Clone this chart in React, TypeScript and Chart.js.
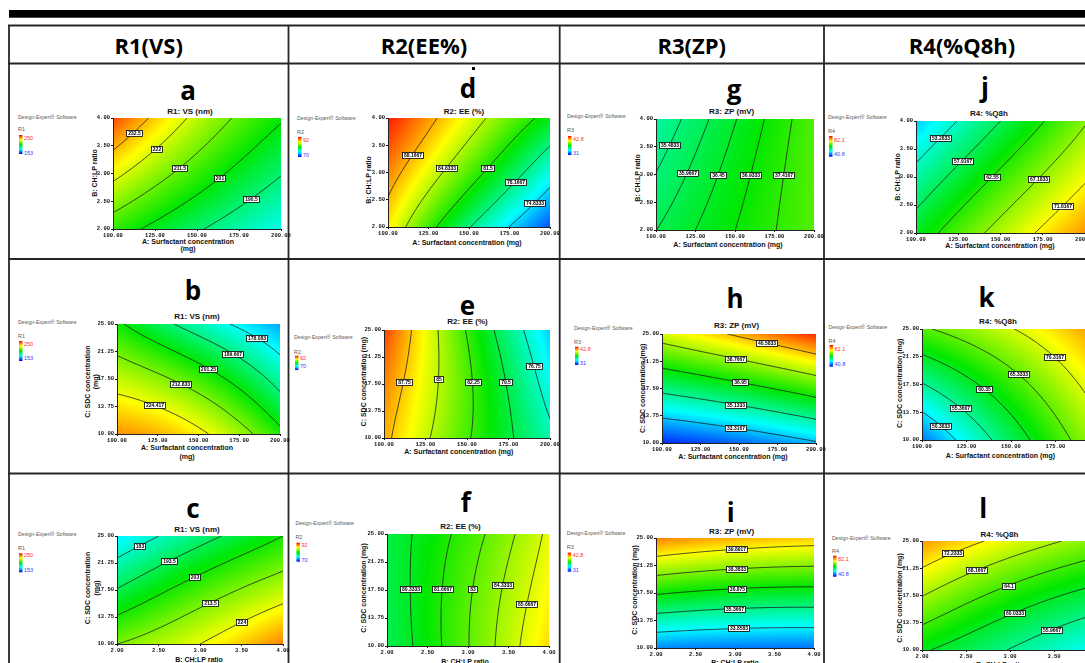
import React, { useEffect, useRef } from "react";
import { Chart, registerables } from "chart.js";

Chart.register(...registerables);

// ---------- factor axes ----------
const SURFACTANT_TICKS = [100, 125, 150, 175, 200];
const RATIO_TICKS = [2, 2.5, 3, 3.5, 4];
const SDC_TICKS = [10, 13.75, 17.5, 21.25, 25];

// ---------- colour-bar range of each response (low, high) ----------
const R1_RANGE = [153, 250];
const R2_RANGE = [70, 92];
const R3_RANGE = [31, 42.8];
const R4_RANGE = [40.8, 82.1];

// ---------- predicted response on a 3x3 design grid ----------
// rows: low / centre / high level of the vertical factor
// columns: low / centre / high level of the horizontal factor
const SURFACE_A = [[206, 191.6, 179], [224.7, 206.5, 191], [243.3, 219.5, 202]];
const SURFACE_B = [[236, 226.5, 204], [220, 207.5, 185.6], [203, 184.4, 169]];
const SURFACE_C = [[213.5, 224, 238], [194, 208, 219.5], [175.5, 190, 203]];
const SURFACE_D = [[86.9, 78.3, 71.8], [89.2, 82.7, 76], [91.5, 86, 80.5]];
const SURFACE_E = [[88.3, 82.5, 77.3], [89.2, 82.7, 75.8], [90.7, 82.1, 74.4]];
const SURFACE_F = [[79.2, 82.95, 87.3], [79.4, 82.8, 86.6], [79.6, 82.3, 86]];
const SURFACE_G = [[35.96, 36.93, 37.85], [35.5, 36.7, 37.85], [35.04, 36.42, 37.8]];
const SURFACE_H = [[31.5, 32.2, 33.2], [35.47, 36.45, 37.68], [39.43, 40.8, 42.3]];
const SURFACE_I = [[32.6, 32.4, 32.35], [37.0, 36.55, 36.42], [41.34, 40.76, 40.45]];
const SURFACE_J = [[60.2, 68.7, 76], [54.7, 63.4, 71.3], [48.9, 57.9, 66.8]];
const SURFACE_K = [[45.5, 57.9, 68.7], [55.1, 63.5, 72.5], [64.8, 70.1, 76.5]];
const SURFACE_L = [[60.5, 55.8, 51], [68.3, 62.6, 58.5], [76, 70.8, 66.5]];

// ---------- contour levels and where each level is labelled ----------
const LEVELS_A = [232.5, 222, 211.5, 201, 190.5];
const LABEL_X_A = [111.9, 126, 139.9, 163, 182];
const LABEL_Y_A = [3.75, 3.44, 3.09, 2.93, 2.53];

const LEVELS_B = [178.083, 189.667, 201.25, 212.833, 224.417];
const LABEL_X_B = [186.7, 172.4, 156.5, 138.8, 122.4];
const LABEL_Y_B = [23.45, 21.4, 19.08, 16.72, 13.68];

const LEVELS_C = [183, 193.5, 203, 213.5, 224];
const LABEL_X_C = [2.29, 2.63, 2.93, 3.12, 3.51];
const LABEL_Y_C = [23.43, 21.5, 19.33, 15.54, 12.95];

const LEVELS_D = [88.1667, 84.8333, 81.5, 78.1667, 74.8333];
const LABEL_X_D = [114.4, 134.9, 160.4, 178.4, 190.3];
const LABEL_Y_D = [3.34, 3.11, 3.11, 2.83, 2.43];

const LEVELS_E = [87.75, 85, 82.25, 79.5, 76.75];
const LABEL_X_E = [111.5, 133, 153.3, 173.2, 190];
const LABEL_Y_E = [17.8, 18.13, 17.8, 17.8, 19.99];

const LEVELS_F = [80.3333, 81.6667, 83, 84.3333, 85.6667];
const LABEL_X_F = [2.31, 2.72, 3.08, 3.5, 3.81];
const LABEL_Y_F = [17.6, 17.6, 17.6, 17.97, 15.4];

const LEVELS_G = [35.4833, 35.9667, 36.45, 36.9333, 37.4167];
const LABEL_X_G = [109.3, 120, 139.4, 160, 180.7];
const LABEL_Y_G = [3.53, 3.03, 2.99, 2.99, 2.99];

const LEVELS_H = [40.5833, 38.7667, 36.95, 35.1333, 33.3167];
const LABEL_X_H = [167.6, 147.4, 150.2, 147.4, 147.4];
const LABEL_Y_H = [23.8, 21.56, 18.4, 15.13, 11.93];

const LEVELS_I = [39.8917, 38.3833, 36.875, 35.3667, 33.8583];
const LABEL_X_I = [3.02, 3.02, 3.03, 2.99, 3.04];
const LABEL_Y_I = [23.45, 20.72, 18.09, 15.5, 12.73];

const LEVELS_J = [53.2833, 57.9167, 62.55, 67.1833, 71.8167];
const LABEL_X_J = [114.4, 127.6, 144.7, 171.7, 186.1];
const LABEL_Y_J = [3.69, 3.28, 2.99, 2.99, 2.51];

const LEVELS_K = [70.3167, 65.3333, 60.35, 55.3667, 50.3833];
const LABEL_X_K = [175.1, 154.9, 134.9, 122.5, 111.8];
const LABEL_Y_K = [21.36, 19.03, 17, 14.45, 12.24];

const LEVELS_L = [72.2333, 68.1667, 64.1, 60.0333, 55.9667];
const LABEL_X_L = [2.34, 2.62, 2.97, 3.05, 3.48];
const LABEL_Y_L = [23.4, 21.1, 19.1, 15, 12.65];

// ---------- responses (table columns) ----------
const RESPONSES = [
  { name: "R1", header: "R1(VS)", title: "R1: VS (nm)", range: R1_RANGE },
  { name: "R2", header: "R2(EE%)", title: "R2: EE (%)", range: R2_RANGE },
  { name: "R3", header: "R3(ZP)", title: "R3: ZP (mV)", range: R3_RANGE },
  { name: "R4", header: "R4(%Q8h)", title: "R4: %Q8h", range: R4_RANGE },
];

const A_TITLE = "A: Surfactant concentration (mg)";
const A_TITLE_SPLIT = ["A: Surfactant concentration", "(mg)"];
const B_TITLE = "B: CH:LP ratio";
const C_TITLE = "C: SDC concentration (mg)";
const C_TITLE_SPLIT = ["C: SDC concentration", "(mg)"];

const PANELS = [
  { key: "a", col: 0, surface: SURFACE_A, levels: LEVELS_A, labelX: LABEL_X_A, labelY: LABEL_Y_A, xTicks: SURFACTANT_TICKS, yTicks: RATIO_TICKS, xText: A_TITLE_SPLIT, yText: [B_TITLE] },
  { key: "b", col: 0, surface: SURFACE_B, levels: LEVELS_B, labelX: LABEL_X_B, labelY: LABEL_Y_B, xTicks: SURFACTANT_TICKS, yTicks: SDC_TICKS, xText: A_TITLE_SPLIT, yText: C_TITLE_SPLIT },
  { key: "c", col: 0, surface: SURFACE_C, levels: LEVELS_C, labelX: LABEL_X_C, labelY: LABEL_Y_C, xTicks: RATIO_TICKS, yTicks: SDC_TICKS, xText: [B_TITLE], yText: C_TITLE_SPLIT },
  { key: "d", col: 1, surface: SURFACE_D, levels: LEVELS_D, labelX: LABEL_X_D, labelY: LABEL_Y_D, xTicks: SURFACTANT_TICKS, yTicks: RATIO_TICKS, xText: [A_TITLE], yText: [B_TITLE] },
  { key: "e", col: 1, surface: SURFACE_E, levels: LEVELS_E, labelX: LABEL_X_E, labelY: LABEL_Y_E, xTicks: SURFACTANT_TICKS, yTicks: SDC_TICKS, xText: [A_TITLE], yText: [C_TITLE] },
  { key: "f", col: 1, surface: SURFACE_F, levels: LEVELS_F, labelX: LABEL_X_F, labelY: LABEL_Y_F, xTicks: RATIO_TICKS, yTicks: SDC_TICKS, xText: [B_TITLE], yText: [C_TITLE] },
  { key: "g", col: 2, surface: SURFACE_G, levels: LEVELS_G, labelX: LABEL_X_G, labelY: LABEL_Y_G, xTicks: SURFACTANT_TICKS, yTicks: RATIO_TICKS, xText: [A_TITLE], yText: [B_TITLE] },
  { key: "h", col: 2, surface: SURFACE_H, levels: LEVELS_H, labelX: LABEL_X_H, labelY: LABEL_Y_H, xTicks: SURFACTANT_TICKS, yTicks: SDC_TICKS, xText: [A_TITLE], yText: [C_TITLE] },
  { key: "i", col: 2, surface: SURFACE_I, levels: LEVELS_I, labelX: LABEL_X_I, labelY: LABEL_Y_I, xTicks: RATIO_TICKS, yTicks: SDC_TICKS, xText: [B_TITLE], yText: [C_TITLE] },
  { key: "j", col: 3, surface: SURFACE_J, levels: LEVELS_J, labelX: LABEL_X_J, labelY: LABEL_Y_J, xTicks: SURFACTANT_TICKS, yTicks: RATIO_TICKS, xText: [A_TITLE], yText: [B_TITLE] },
  { key: "k", col: 3, surface: SURFACE_K, levels: LEVELS_K, labelX: LABEL_X_K, labelY: LABEL_Y_K, xTicks: SURFACTANT_TICKS, yTicks: SDC_TICKS, xText: [A_TITLE], yText: [C_TITLE] },
  { key: "l", col: 3, surface: SURFACE_L, levels: LEVELS_L, labelX: LABEL_X_L, labelY: LABEL_Y_L, xTicks: RATIO_TICKS, yTicks: SDC_TICKS, xText: [B_TITLE], yText: [C_TITLE] },
];

// ---------- page geometry ----------
const PAGE_W = 1085;
const PAGE_H = 663;
const H_RULES = [25.5, 63.5, 259, 473.5];
const V_RULES = [9, 288.5, 559.7, 824];
const HEADER_X = [148.7, 424, 691.8, 962];
const HEADER_Y = 45;

// plot: [left, top, right, bottom] of the plotting area
const LAYOUT: Record<string, any> = {
  a: { plot: [113, 118, 281, 229], letter: [188, 100], title: [190, 111], xTitle: { x: 188, y: [241, 248] }, yTitle: { x: [94], y: 173 }, legend: { x: 18, de: 117, r: 129, bar: [135, 154], hi: 137.5, lo: 152.5 } },
  b: { plot: [117, 324, 280, 434], letter: [193, 300], title: [197, 316.7], xTitle: { x: 187, y: [447.7, 456] }, yTitle: { x: [87, 95.7], y: 381.7 }, legend: { x: 18, de: 321.7, r: 336, bar: [341, 361], hi: 343.7, lo: 358.3 } },
  c: { plot: [117, 536, 283, 644], letter: [193, 518], title: [197, 529.3], xTitle: { x: 199, y: [659] }, yTitle: { x: [87, 96], y: 588 }, legend: { x: 18, de: 534.3, r: 548.3, bar: [553.3, 572.3], hi: 555.3, lo: 570 } },
  d: { plot: [388, 118, 550, 227], letter: [468, 98], dot: [472, 67], title: [464, 111], xTitle: { x: 467, y: [242] }, yTitle: { x: [368], y: 180 }, legend: { x: 297, de: 118, r: 132, bar: [137, 157], hi: 140, lo: 155 } },
  e: { plot: [384, 330, 550, 438], letter: [467.5, 315], title: [467.5, 321.7], xTitle: { x: 458.8, y: [451.7] }, yTitle: { x: [363], y: 381.7 }, legend: { x: 294, de: 336.7, r: 351.7, bar: [355.7, 370], hi: 358.3, lo: 366 } },
  f: { plot: [387, 534, 549, 646], letter: [465.8, 511.7], title: [460.5, 526], xTitle: { x: 465, y: [661] }, yTitle: { x: [363], y: 588 }, legend: { x: 295.4, de: 523.3, r: 536.7, bar: [542.7, 561.7], hi: 545, lo: 560 } },
  g: { plot: [656, 119, 814, 230], letter: [734, 98.5], title: [731.7, 111], xTitle: { x: 728, y: [244] }, yTitle: { x: [637], y: 178 }, legend: { x: 567, de: 116, r: 130, bar: [136, 155], hi: 139, lo: 152.7 } },
  h: { plot: [662, 334, 816, 443], letter: [735, 308], title: [736.7, 325], xTitle: { x: 733, y: [456.3] }, yTitle: { x: [642.3], y: 388.3 }, legend: { x: 574, de: 327.7, r: 341.7, bar: [346.7, 365], hi: 349, lo: 363.3 } },
  i: { plot: [656, 538, 814, 648], letter: [730.7, 521.7], title: [731.7, 531], xTitle: { x: 735, y: [662] }, yTitle: { x: [634], y: 590 }, legend: { x: 566.7, de: 533.3, r: 546.7, bar: [552.7, 571.7], hi: 555, lo: 570 } },
  j: { plot: [916, 121, 1085, 233], letter: [985, 97], title: [989, 113], xTitle: { x: 1000, y: [245.7] }, yTitle: { x: [897], y: 177 }, legend: { x: 828, de: 117, r: 130.7, bar: [136, 156.7], hi: 140, lo: 154 } },
  k: { plot: [922, 329, 1100, 440], letter: [986.6, 306.7], title: [998, 321.7], xTitle: { x: 1000.5, y: [455] }, yTitle: { x: [899.7], y: 383.3 }, legend: { x: 828.5, de: 327.3, r: 341, bar: [345, 366.7], hi: 349, lo: 364 } },
  l: { plot: [922, 541, 1098, 650], letter: [983.2, 518.3], title: [999.5, 534], xTitle: { x: 1000, y: [664] }, yTitle: { x: [899.7], y: 598 }, legend: { x: 832, de: 537.7, r: 551, bar: [555.7, 576.7], hi: 559, lo: 574.3 } },
};

const AXIS_PAD_LEFT = 2;
const Y_AXIS_W = 22;
const PAD_TOP = 6;
const PAD_RIGHT = 18;
const X_AXIS_H = 12;
const PAD_BOTTOM = 2;

const SANS = '"Liberation Sans", Arial, sans-serif';
const HEAD = '"Open Sans", "Liberation Sans", sans-serif';

// blue -> cyan -> green -> yellow -> red
const COLOUR_STOPS = [
  [0, 0, 255],
  [0, 255, 255],
  [0, 232, 0],
  [255, 255, 0],
  [255, 0, 0],
];

function colourFor(t: number) {
  const c = Math.max(0, Math.min(1, t)) * 4;
  const i = Math.min(3, Math.floor(c));
  const f = c - i;
  const a = COLOUR_STOPS[i];
  const b = COLOUR_STOPS[i + 1];
  return [a[0] + (b[0] - a[0]) * f, a[1] + (b[1] - a[1]) * f, a[2] + (b[2] - a[2]) * f];
}

const basis = (t: number) => [2 * (t - 0.5) * (t - 1), -4 * t * (t - 1), 2 * t * (t - 0.5)];

// quadratic response surface through the 3x3 grid, u/v in [0, 1]
function evalSurface(grid: number[][], u: number, v: number) {
  const bu = basis(u);
  const bv = basis(v);
  let s = 0;
  for (let j = 0; j < 3; j++) for (let i = 0; i < 3; i++) s += grid[j][i] * bu[i] * bv[j];
  return s;
}

function surfacePlugin(panel: any) {
  const { surface, levels, xTicks, yTicks } = panel;
  const range = RESPONSES[panel.col].range;
  const x0 = xTicks[0];
  const x1 = xTicks[xTicks.length - 1];
  const y0 = yTicks[0];
  const y1 = yTicks[yTicks.length - 1];
  const valueAt = (x: number, y: number) => evalSurface(surface, (x - x0) / (x1 - x0), (y - y0) / (y1 - y0));

  return {
    id: "responseSurface",
    beforeDraw(chart: any) {
      const { ctx, chartArea: area, scales } = chart;
      const xs = scales.x;
      const ys = scales.y;
      const fieldAt = (px: number, py: number) => valueAt(xs.getValueForPixel(px), ys.getValueForPixel(py));

      // filled colour map
      const w = Math.round(area.right - area.left);
      const h = Math.round(area.bottom - area.top);
      const off = document.createElement("canvas");
      off.width = w;
      off.height = h;
      const octx = off.getContext("2d")!;
      const img = octx.createImageData(w, h);
      for (let j = 0; j < h; j++) {
        for (let i = 0; i < w; i++) {
          const v = fieldAt(area.left + i + 0.5, area.top + j + 0.5);
          const c = colourFor((v - range[0]) / (range[1] - range[0]));
          const k = (j * w + i) * 4;
          img.data[k] = c[0];
          img.data[k + 1] = c[1];
          img.data[k + 2] = c[2];
          img.data[k + 3] = 255;
        }
      }
      octx.putImageData(img, 0, 0);
      ctx.drawImage(off, area.left, area.top);

      // contour lines (marching squares)
      const step = 1.5;
      const nx = Math.ceil(w / step) + 1;
      const ny = Math.ceil(h / step) + 1;
      const gx: number[] = [];
      const gy: number[] = [];
      for (let i = 0; i < nx; i++) gx.push(Math.min(area.left + i * step, area.right));
      for (let j = 0; j < ny; j++) gy.push(Math.min(area.top + j * step, area.bottom));
      const vals = new Float64Array(nx * ny);
      for (let j = 0; j < ny; j++) for (let i = 0; i < nx; i++) vals[j * nx + i] = fieldAt(gx[i], gy[j]);

      ctx.save();
      ctx.beginPath();
      ctx.rect(area.left, area.top, area.right - area.left, area.bottom - area.top);
      ctx.clip();
      ctx.strokeStyle = "#1c1c1c";
      ctx.lineWidth = 0.8;
      for (const level of levels) {
        ctx.beginPath();
        for (let j = 0; j < ny - 1; j++) {
          for (let i = 0; i < nx - 1; i++) {
            const a = vals[j * nx + i];
            const b = vals[j * nx + i + 1];
            const c = vals[(j + 1) * nx + i + 1];
            const d = vals[(j + 1) * nx + i];
            const pts: number[][] = [];
            if (a < level !== b < level) pts.push([gx[i] + ((level - a) / (b - a)) * (gx[i + 1] - gx[i]), gy[j]]);
            if (b < level !== c < level) pts.push([gx[i + 1], gy[j] + ((level - b) / (c - b)) * (gy[j + 1] - gy[j])]);
            if (c < level !== d < level) pts.push([gx[i + 1] + ((level - c) / (d - c)) * (gx[i] - gx[i + 1]), gy[j + 1]]);
            if (d < level !== a < level) pts.push([gx[i], gy[j + 1] + ((level - d) / (a - d)) * (gy[j] - gy[j + 1])]);
            for (let p = 0; p + 1 < pts.length; p += 2) {
              ctx.moveTo(pts[p][0], pts[p][1]);
              ctx.lineTo(pts[p + 1][0], pts[p + 1][1]);
            }
          }
        }
        ctx.stroke();
      }
      ctx.restore();
    },
    afterDatasetsDraw(chart: any) {
      const { ctx, chartArea: area, scales } = chart;
      const xs = scales.x;
      const ys = scales.y;
      const fieldAt = (px: number, py: number) => valueAt(xs.getValueForPixel(px), ys.getValueForPixel(py));
      const meta = chart.getDatasetMeta(0);
      ctx.save();
      ctx.font = `bold 5px ${SANS}`;
      ctx.textAlign = "center";
      ctx.textBaseline = "middle";
      meta.data.forEach((pt: any, idx: number) => {
        const level = levels[idx];
        let px = pt.x;
        let py = pt.y;
        // slide the label along the gradient onto its contour line
        const gxv = fieldAt(px + 1, py) - fieldAt(px - 1, py);
        const gyv = fieldAt(px, py + 1) - fieldAt(px, py - 1);
        const n = Math.hypot(gxv, gyv) || 1;
        const dx = gxv / n;
        const dy = gyv / n;
        let best: number | null = null;
        let prev = fieldAt(px - 12 * dx, py - 12 * dy) - level;
        for (let t = -11.5; t <= 12; t += 0.5) {
          const cur = fieldAt(px + t * dx, py + t * dy) - level;
          if (prev * cur <= 0 && cur !== prev) {
            const tt = t - (0.5 * cur) / (cur - prev);
            if (best === null || Math.abs(tt) < Math.abs(best)) best = tt;
          }
          prev = cur;
        }
        if (best !== null) {
          px += best * dx;
          py += best * dy;
        }
        const text = String(level);
        const tw = ctx.measureText(text).width + 3;
        px = Math.max(area.left + tw / 2 + 1, Math.min(area.right - tw / 2 - 1, px));
        const bx = Math.round(px - tw / 2) + 0.5;
        const by = Math.round(py - 3) + 0.5;
        ctx.fillStyle = "#ffffff";
        ctx.fillRect(bx, by, Math.round(tw), 6);
        ctx.strokeStyle = "#000000";
        ctx.lineWidth = 0.8;
        ctx.strokeRect(bx, by, Math.round(tw), 6);
        ctx.fillStyle = "#000000";
        ctx.fillText(text, bx + Math.round(tw) / 2, by + 3.2);
      });
      ctx.restore();
    },
  };
}

function axisOptions(ticks: number[], horizontal: boolean) {
  return {
    type: "linear",
    min: ticks[0],
    max: ticks[ticks.length - 1],
    afterBuildTicks: (scale: any) => {
      scale.ticks = ticks.map((value) => ({ value }));
    },
    afterFit: (scale: any) => {
      if (horizontal) scale.height = X_AXIS_H;
      else scale.width = Y_AXIS_W;
    },
    ticks: {
      autoSkip: false,
      maxRotation: 0,
      minRotation: 0,
      padding: 1,
      color: "#111",
      font: { family: '"Liberation Mono", "DejaVu Sans Mono", monospace', size: 5.5, weight: "bold" },
      callback: (v: any) => Number(v).toFixed(2),
    },
    grid: { drawOnChartArea: false, drawTicks: true, tickLength: 2, color: "#111", lineWidth: 1 },
    border: { display: true, color: "#222", width: 1 },
  };
}

function ContourChart({ panel }: { panel: any }) {
  const ref = useRef<HTMLCanvasElement | null>(null);
  const [L, T, R, B] = LAYOUT[panel.key].plot;
  const left = L - AXIS_PAD_LEFT - Y_AXIS_W;
  const top = T - PAD_TOP;
  const width = R + PAD_RIGHT - left;
  const height = B + X_AXIS_H + PAD_BOTTOM - top;

  useEffect(() => {
    const canvas = ref.current;
    if (!canvas) return;
    const chart = new Chart(canvas, {
      type: "scatter",
      data: {
        datasets: [
          {
            data: panel.labelX.map((x: number, i: number) => ({ x, y: panel.labelY[i] })),
            pointRadius: 0,
            showLine: false,
          },
        ],
      },
      options: {
        animation: false,
        responsive: false,
        devicePixelRatio: 1,
        events: [],
        layout: { padding: { left: AXIS_PAD_LEFT, top: PAD_TOP, right: PAD_RIGHT, bottom: PAD_BOTTOM } },
        plugins: { legend: { display: false }, title: { display: false }, tooltip: { enabled: false } },
        scales: {
          x: axisOptions(panel.xTicks, true),
          y: axisOptions(panel.yTicks, false),
        },
      } as any,
      plugins: [surfacePlugin(panel)],
    });
    return () => chart.destroy();
  }, [panel]);

  return (
    <canvas
      ref={ref}
      width={width}
      height={height}
      style={{ position: "absolute", left, top, width, height }}
    />
  );
}

function PanelText({ panel }: { panel: any }) {
  const lay = LAYOUT[panel.key];
  const resp = RESPONSES[panel.col];
  const lg = lay.legend;
  return (
    <g>
      <text x={lay.letter[0]} y={lay.letter[1]} textAnchor="middle" fontFamily={HEAD} fontWeight={700} fontSize={26} fill="#000">
        {panel.key}
      </text>
      {lay.dot ? <rect x={lay.dot[0]} y={lay.dot[1]} width={3} height={3} fill="#000" /> : null}
      <text x={lay.title[0]} y={lay.title[1]} textAnchor="middle" dominantBaseline="central" fontFamily={SANS} fontWeight={700} fontSize={8} fill="#111">
        {resp.title}
      </text>
      {panel.xText.map((line: string, i: number) => (
        <text key={"x" + i} x={lay.xTitle.x} y={lay.xTitle.y[i]} textAnchor="middle" dominantBaseline="central" fontFamily={SANS} fontWeight={700} fontSize={7} fill="#111">
          {line}
        </text>
      ))}
      {panel.yText.map((line: string, i: number) => (
        <text
          key={"y" + i}
          transform={`translate(${lay.yTitle.x[i]},${lay.yTitle.y}) rotate(-90)`}
          textAnchor="middle"
          dominantBaseline="central"
          fontFamily={SANS}
          fontWeight={700}
          fontSize={7}
          fill="#111"
        >
          {line}
        </text>
      ))}
      <text x={lg.x} y={lg.de} dominantBaseline="central" fontFamily={SANS} fontSize={5.2} fill="#5a5a5a">
        Design-Expert® Software
      </text>
      <text x={lg.x} y={lg.r} dominantBaseline="central" fontFamily={SANS} fontSize={5.5} fill="#5a5a5a">
        {resp.name}
      </text>
      <rect x={lg.x + 1} y={lg.bar[0]} width={3.5} height={lg.bar[1] - lg.bar[0]} fill="url(#legendRamp)" />
      <text x={lg.x + 6} y={lg.hi} dominantBaseline="central" fontFamily={SANS} fontSize={5.5} fill="#ff3030">
        {String(resp.range[1])}
      </text>
      <text x={lg.x + 6} y={lg.lo} dominantBaseline="central" fontFamily={SANS} fontSize={5.5} fill="#3838ff">
        {String(resp.range[0])}
      </text>
    </g>
  );
}

function Frame() {
  return (
    <svg width={PAGE_W} height={PAGE_H} style={{ position: "absolute", left: 0, top: 0 }}>
      <defs>
        <linearGradient id="legendRamp" x1="0" y1="0" x2="0" y2="1">
          <stop offset="0" stopColor="#ff0000" />
          <stop offset="0.25" stopColor="#ffff00" />
          <stop offset="0.5" stopColor="#00e800" />
          <stop offset="0.75" stopColor="#00ffff" />
          <stop offset="1" stopColor="#0000ff" />
        </linearGradient>
      </defs>
      <rect x={9} y={10} width={PAGE_W - 9} height={7.7} fill="#000" />
      {H_RULES.map((y) => (
        <line key={"h" + y} x1={8} x2={PAGE_W} y1={y} y2={y} stroke="#262626" strokeWidth={1.8} />
      ))}
      {V_RULES.map((x) => (
        <line key={"v" + x} x1={x} x2={x} y1={H_RULES[0]} y2={PAGE_H} stroke="#262626" strokeWidth={1.8} />
      ))}
      {RESPONSES.map((r, c) => (
        <text key={r.name} x={HEADER_X[c]} y={HEADER_Y} textAnchor="middle" dominantBaseline="central" fontFamily={HEAD} fontWeight={700} fontSize={22} fill="#000">
          {r.header}
        </text>
      ))}
      {PANELS.map((p) => (
        <PanelText key={p.key} panel={p} />
      ))}
    </svg>
  );
}

export default function App() {
  return (
    <div
      style={{
        position: "fixed",
        left: 0,
        top: 0,
        width: PAGE_W,
        height: PAGE_H,
        overflow: "hidden",
        background: "#ffffff",
      }}
    >
      <Frame />
      {PANELS.map((p) => (
        <ContourChart key={p.key} panel={p} />
      ))}
    </div>
  );
}
